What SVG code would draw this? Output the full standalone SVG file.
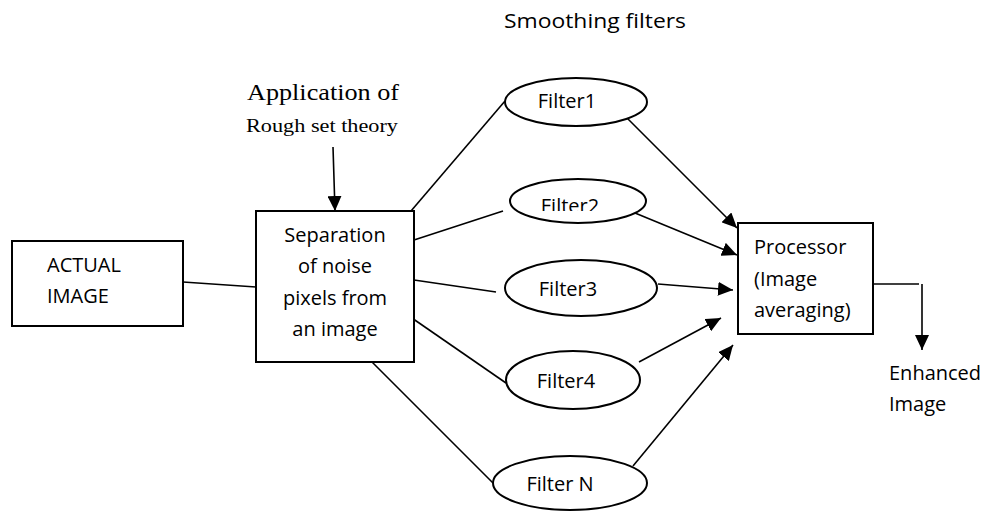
<svg xmlns="http://www.w3.org/2000/svg" width="981" height="511" viewBox="0 0 981 511">
  <defs>
    <style>
      .box { fill: #fff; stroke: #000; stroke-width: 2; }
      .oval { fill: #fff; stroke: #000; stroke-width: 2; }
      .wire { fill: none; stroke: #000; stroke-width: 1.6; }
      .arrow { fill: none; stroke: #000; stroke-width: 1.6; marker-end: url(#head); }
      .lbl { font-family: "Open Sans", "Liberation Sans", sans-serif; font-size: 20px; fill: #000; }
      .serif { font-family: "Liberation Serif", "Times New Roman", serif; fill: #000; }
      .mid { text-anchor: middle; }
    </style>
    <marker id="head" markerWidth="16" markerHeight="14" refX="15" refY="7" orient="auto" markerUnits="userSpaceOnUse">
      <path d="M0,0 L15,7 L0,14 Z" fill="#000"/>
    </marker>
    <clipPath id="f2clip">
      <rect x="500" y="180" width="160" height="31"/>
    </clipPath>
  </defs>

  <rect width="981" height="511" fill="#fff"/>

  <!-- headings -->
  <text class="lbl" x="504" y="28" font-size="22" textLength="182" lengthAdjust="spacingAndGlyphs">Smoothing filters</text>
  <text class="serif" x="247" y="100" font-size="24" textLength="152" lengthAdjust="spacingAndGlyphs">Application of</text>
  <text class="serif" x="246" y="132" font-size="19" textLength="152" lengthAdjust="spacingAndGlyphs">Rough set theory</text>

  <!-- connectors -->
  <g id="connectors">
    <line class="wire" x1="183" y1="282" x2="256" y2="287"/>
    <line class="arrow" x1="333" y1="147" x2="335" y2="211"/>
    <line class="wire" x1="411" y1="211" x2="505" y2="101"/>
    <line class="wire" x1="414" y1="240" x2="503" y2="211"/>
    <line class="wire" x1="414" y1="280" x2="496" y2="292"/>
    <line class="wire" x1="409" y1="316" x2="506" y2="383"/>
    <line class="wire" x1="372" y1="362" x2="493" y2="483"/>
    <line class="arrow" x1="626" y1="117" x2="737" y2="228"/>
    <line class="arrow" x1="635" y1="213" x2="737" y2="255"/>
    <line class="arrow" x1="658" y1="284" x2="733" y2="290"/>
    <line class="arrow" x1="639" y1="362" x2="721" y2="318"/>
    <line class="arrow" x1="633" y1="466" x2="733" y2="345"/>
    <polyline class="wire" points="873,284 919,284"/>
    <line class="arrow" x1="922" y1="284" x2="922" y2="350"/>
  </g>

  <g id="actual-image">
    <rect class="box" x="12" y="241" width="171" height="85"/>
    <text class="lbl" x="47" y="272">ACTUAL</text>
    <text class="lbl" x="47" y="303">IMAGE</text>
  </g>

  <g id="separation">
    <rect class="box" x="256" y="211" width="158" height="151"/>
    <text class="lbl mid" x="335" y="242">Separation</text>
    <text class="lbl mid" x="335" y="273">of noise</text>
    <text class="lbl mid" x="335" y="305">pixels from</text>
    <text class="lbl mid" x="335" y="336">an image</text>
  </g>

  <g id="filter1">
    <ellipse class="oval" cx="576" cy="102" rx="71" ry="24"/>
    <text class="lbl mid" x="567" y="108">Filter1</text>
  </g>

  <g id="filter2">
    <ellipse class="oval" cx="578" cy="201" rx="68" ry="22"/>
    <text class="lbl mid" x="570" y="213" clip-path="url(#f2clip)">Filter2</text>
  </g>

  <g id="filter3">
    <ellipse class="oval" cx="581" cy="288" rx="76" ry="28"/>
    <text class="lbl mid" x="568" y="296">Filter3</text>
  </g>

  <g id="filter4">
    <ellipse class="oval" cx="573" cy="380" rx="67" ry="29"/>
    <text class="lbl mid" x="566" y="388">Filter4</text>
  </g>

  <g id="filterN">
    <ellipse class="oval" cx="570" cy="483" rx="77" ry="27"/>
    <text class="lbl mid" x="560" y="491">Filter N</text>
  </g>

  <g id="processor">
    <rect class="box" x="738" y="223" width="135" height="111"/>
    <text class="lbl" x="754" y="254">Processor</text>
    <text class="lbl" x="754" y="286">(Image</text>
    <text class="lbl" x="754" y="317">averaging)</text>
  </g>

  <g id="enhanced">
    <text class="lbl" x="889" y="380">Enhanced</text>
    <text class="lbl" x="889" y="411">Image</text>
  </g>
</svg>
